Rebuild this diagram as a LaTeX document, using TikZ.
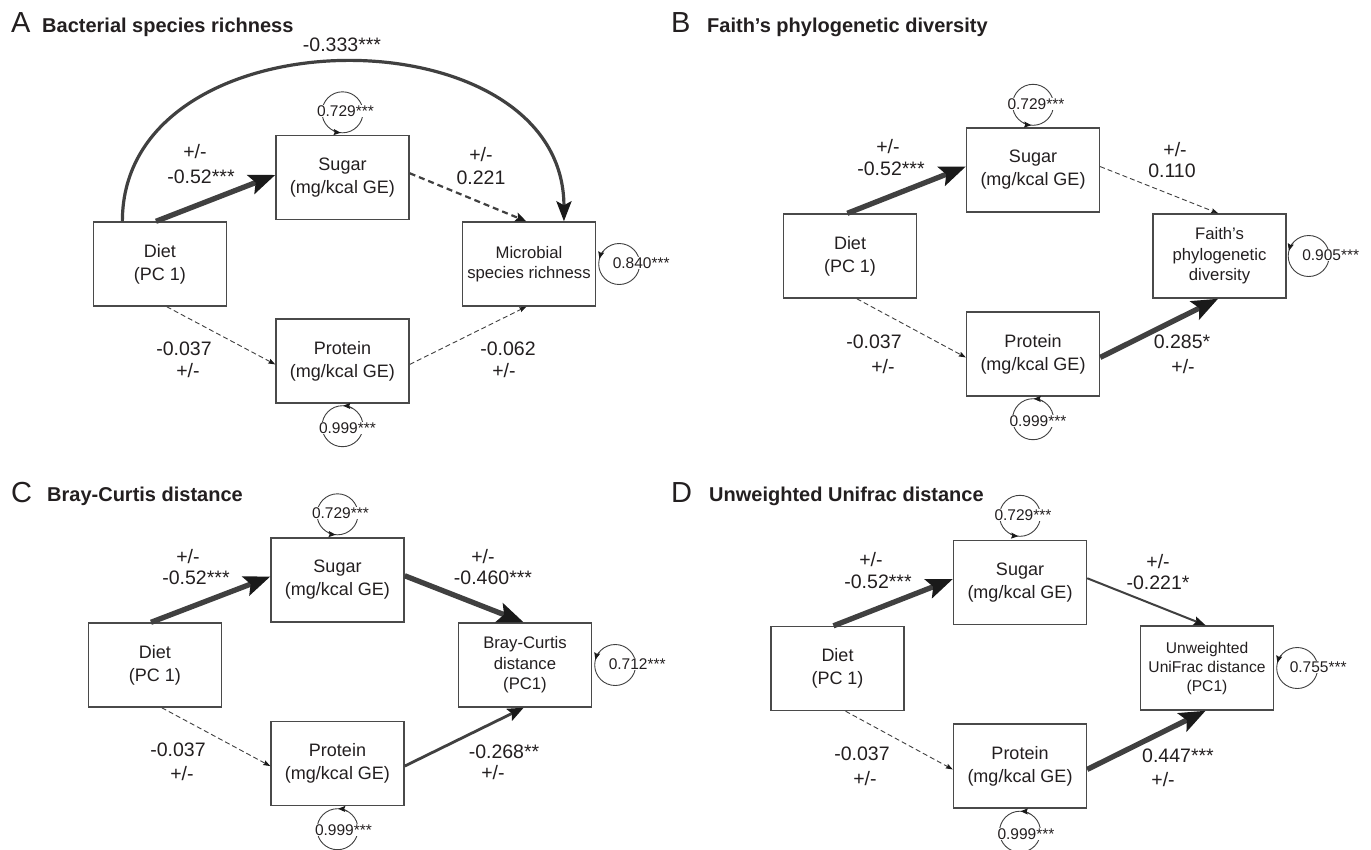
\documentclass[tikz,border=0pt]{standalone}
\usepackage{fontspec}
\setmainfont{Liberation Sans}
\usetikzlibrary{arrows.meta,calc}
\definecolor{ln}{HTML}{404040}
\definecolor{bx}{HTML}{4A4A4A}
\definecolor{tx}{HTML}{231F20}
\definecolor{ah}{HTML}{1A1A1A}
\tikzset{
  box/.style={draw=bx, line width=1.4pt, minimum width=133pt, minimum height=84pt, inner sep=0pt, align=center, text=tx, font=\fontsize{18}{23}\selectfont},
  obox/.style={box, font=\fontsize{16.7}{20.5}\selectfont},
  oboxs/.style={box, font=\fontsize{15.6}{19}\selectfont},
  elab/.style={text=tx, inner sep=0pt, font=\fontsize{19.5}{23}\selectfont},
  llab/.style={text=tx, fill=white, inner sep=0.6pt, font=\fontsize{15.5}{18}\selectfont},
  ttl/.style={anchor=base west, inner sep=0pt, text=tx, font=\bfseries\fontsize{20}{24}\selectfont},
  tletter/.style={anchor=base west, inner sep=0pt, text=tx, font=\fontsize{29}{32}\selectfont},
  thk/.style={draw=ln, line width=5.3pt, -{Stealth[length=26pt,width=20pt,inset=5pt,color=ah]}},
  med/.style={draw=ln, line width=2.8pt, -{Stealth[length=16pt,width=13pt,inset=3pt,color=ah]}},
  medthin/.style={draw=ln, line width=2pt, -{Stealth[length=12pt,width=9pt,inset=2pt,color=ah]}},
  meddash/.style={draw=ln, line width=2.2pt, dash pattern=on 6pt off 4pt, -{Stealth[length=11pt,width=9pt,inset=2pt,color=ah]}},
  thindash/.style={draw=ln, line width=0.9pt, dash pattern=on 5pt off 3pt, -{Stealth[length=7pt,width=5pt,inset=1pt,color=ah]}},
  curv/.style={draw=ln, line width=3.2pt, -{Stealth[length=20pt,width=15pt,inset=4pt,color=ah]}},
  loopc/.style={draw=ln, line width=0.9pt},
  looparr/.style={draw=ln, line width=0.9pt, -{Stealth[length=7pt,width=6pt,inset=1pt,color=ah]}}
}
\begin{document}
\begin{tikzpicture}[x=1pt,y=-1pt]
\fill[white] (0,0) rectangle (1371,849);
\useasboundingbox (0,0) rectangle (1371,849);

% ================= Panel A =================
\node[tletter] (tA) at (11,32) {A};
\node[ttl] (tAt) at (42,32) {Bacterial species richness};
\node[box] (aD) at (160,264) {Diet\\(PC 1)};
\node[box] (aS) at (342.5,177.5) {Sugar\\(mg/kcal GE)};
\node[box] (aP) at (342.5,361) {Protein\\(mg/kcal GE)};
\node[obox] (aM) at (529,264) {Microbial\\species richness};

\draw[thk] ($(aD.north west)!0.47!(aD.north east)$) -- ($(aS.north west)!0.47!(aS.south west)$);
\draw[curv] ($(aD.north west)!0.22!(aD.north east)$) .. controls +(0,-212) and +(0,-212) .. ($(aM.north west)!0.76!(aM.north east)$);
\draw[meddash] ($(aS.north east)!0.45!(aS.south east)$) -- ($(aM.north west)!0.48!(aM.north east)$);
\draw[thindash] ($(aD.south west)!0.55!(aD.south east)$) -- ($(aP.north west)!0.54!(aP.south west)$);
\draw[thindash] ($(aP.north east)!0.54!(aP.south east)$) -- ($(aM.south west)!0.48!(aM.south east)$);

\node[elab] (aL0) at (342,45) {-0.333***};
\node[elab] (aL1) at (195,152) {+/-};
\node[elab] (aL2) at (201,177) {-0.52***};
\node[elab] (aL3) at (481,155) {+/-};
\node[elab] (aL4) at (481,178) {0.221};
\node[elab] (aL5) at (184,349) {-0.037};
\node[elab] (aL6) at (188,371) {+/-};
\node[elab] (aL7) at (508,349) {-0.062};
\node[elab] (aL8) at (504,371) {+/-};

\coordinate (aSl) at ($(aS.north)+(0,-22.5)$);
\draw[loopc] (aSl) circle[radius=20.5];
\draw[looparr] ($(aSl)+(118:20.5)$) arc[start angle=118, end angle=95, radius=20.5];
\node[llab] (aSt) at ($(aSl)+(3,-1)$) {0.729***};
\coordinate (aPl) at ($(aP.south)+(0,22.5)$);
\draw[loopc] (aPl) circle[radius=20.5];
\draw[looparr] ($(aPl)+(300:20.5)$) arc[start angle=300, end angle=272, radius=20.5];
\node[llab] (aPt) at ($(aPl)+(5,2)$) {0.999***};
\coordinate (aMl) at ($(aM.east)+(23,0)$);
\draw[loopc] (aMl) circle[radius=20.5];
\draw[looparr] ($(aMl)+(220:20.5)$) arc[start angle=220, end angle=195, radius=20.5];
\node[llab] (aMt) at ($(aMl)+(22,-1)$) {0.840***};

% ================= Panel B =================
\node[tletter] (tB) at (671,32) {B};
\node[ttl] (tBt) at (707,32) {Faith’s phylogenetic diversity};
\node[box] (bD) at (850,256) {Diet\\(PC 1)};
\node[box] (bS) at (1033,170) {Sugar\\(mg/kcal GE)};
\node[box] (bP) at (1033,354) {Protein\\(mg/kcal GE)};
\node[obox] (bO) at (1219.5,256) {Faith’s\\phylogenetic\\diversity};

\draw[thk] ($(bD.north west)!0.48!(bD.north east)$) -- ($(bS.north west)!0.46!(bS.south west)$);
\draw[thindash] ($(bS.north east)!0.46!(bS.south east)$) -- ($(bO.north west)!0.49!(bO.north east)$);
\draw[thindash] ($(bD.south west)!0.55!(bD.south east)$) -- ($(bP.north west)!0.54!(bP.south west)$);
\draw[thk] ($(bP.north east)!0.54!(bP.south east)$) -- ($(bO.south west)!0.49!(bO.south east)$);

\node[elab] (bL1) at (888,147) {+/-};
\node[elab] (bL2) at (891,169) {-0.52***};
\node[elab] (bL3) at (1175,150) {+/-};
\node[elab] (bL4) at (1172,171) {0.110};
\node[elab] (bL5) at (874,342) {-0.037};
\node[elab] (bL6) at (883,367) {+/-};
\node[elab] (bL7) at (1182,342) {0.285*};
\node[elab] (bL8) at (1183,367) {+/-};

\coordinate (bSl) at ($(bS.north)+(0,-22.5)$);
\draw[loopc] (bSl) circle[radius=20.5];
\draw[looparr] ($(bSl)+(118:20.5)$) arc[start angle=118, end angle=95, radius=20.5];
\node[llab] (bSt) at ($(bSl)+(3,-1)$) {0.729***};
\coordinate (bPl) at ($(bP.south)+(0,22.5)$);
\draw[loopc] (bPl) circle[radius=20.5];
\draw[looparr] ($(bPl)+(300:20.5)$) arc[start angle=300, end angle=272, radius=20.5];
\node[llab] (bPt) at ($(bPl)+(5,2)$) {0.999***};
\coordinate (bOl) at ($(bO.east)+(22,0)$);
\draw[loopc] (bOl) circle[radius=20.5];
\draw[looparr] ($(bOl)+(220:20.5)$) arc[start angle=220, end angle=195, radius=20.5];
\node[llab] (bOt) at ($(bOl)+(22,-1)$) {0.905***};

% ================= Panel C =================
\node[tletter] (tC) at (11,502) {C};
\node[ttl] (tCt) at (47,501) {Bray-Curtis distance};
\node[box] (cD) at (155,665) {Diet\\(PC 1)};
\node[box] (cS) at (337.5,580) {Sugar\\(mg/kcal GE)};
\node[box] (cP) at (337.5,763.5) {Protein\\(mg/kcal GE)};
\node[obox] (cO) at (525,665) {Bray-Curtis\\distance\\(PC1)};

\draw[thk] ($(cD.north west)!0.47!(cD.north east)$) -- ($(cS.north west)!0.46!(cS.south west)$);
\draw[thk] ($(cS.north east)!0.45!(cS.south east)$) -- ($(cO.north west)!0.49!(cO.north east)$);
\draw[thindash] ($(cD.south west)!0.55!(cD.south east)$) -- ($(cP.north west)!0.53!(cP.south west)$);
\draw[med] ($(cP.north east)!0.53!(cP.south east)$) -- ($(cO.south west)!0.49!(cO.south east)$);

\node[elab] (cL1) at (188,557) {+/-};
\node[elab] (cL2) at (196,578) {-0.52***};
\node[elab] (cL3) at (483,557) {+/-};
\node[elab] (cL4) at (493,578) {-0.460***};
\node[elab] (cL5) at (178,750) {-0.037};
\node[elab] (cL6) at (182,774) {+/-};
\node[elab] (cL7) at (504,752) {-0.268**};
\node[elab] (cL8) at (493,773) {+/-};

\coordinate (cSl) at ($(cS.north)+(0,-23)$);
\draw[loopc] (cSl) circle[radius=20.5];
\draw[looparr] ($(cSl)+(118:20.5)$) arc[start angle=118, end angle=95, radius=20.5];
\node[llab] (cSt) at ($(cSl)+(3,-1)$) {0.729***};
\coordinate (cPl) at ($(cP.south)+(0,23)$);
\draw[loopc] (cPl) circle[radius=20.5];
\draw[looparr] ($(cPl)+(300:20.5)$) arc[start angle=300, end angle=272, radius=20.5];
\node[llab] (cPt) at ($(cPl)+(6,1)$) {0.999***};
\coordinate (cOl) at ($(cO.east)+(23,0)$);
\draw[loopc] (cOl) circle[radius=20.5];
\draw[looparr] ($(cOl)+(220:20.5)$) arc[start angle=220, end angle=195, radius=20.5];
\node[llab] (cOt) at ($(cOl)+(22,-1)$) {0.712***};

% ================= Panel D =================
\node[tletter] (tD) at (671,502) {D};
\node[ttl] (tDt) at (709,501) {Unweighted Unifrac distance};
\node[box] (dD) at (837.5,668.5) {Diet\\(PC 1)};
\node[box] (dS) at (1020,582.5) {Sugar\\(mg/kcal GE)};
\node[box] (dP) at (1020,766) {Protein\\(mg/kcal GE)};
\node[oboxs] (dO) at (1207,668) {Unweighted\\UniFrac distance\\(PC1)};

\draw[thk] ($(dD.north west)!0.47!(dD.north east)$) -- ($(dS.north west)!0.46!(dS.south west)$);
\draw[medthin] ($(dS.north east)!0.45!(dS.south east)$) -- ($(dO.north west)!0.49!(dO.north east)$);
\draw[thindash] ($(dD.south west)!0.56!(dD.south east)$) -- ($(dP.north west)!0.54!(dP.south west)$);
\draw[thk] ($(dP.north east)!0.54!(dP.south east)$) -- ($(dO.south west)!0.49!(dO.south east)$);

\node[elab] (dL1) at (871,560) {+/-};
\node[elab] (dL2) at (878,582) {-0.52***};
\node[elab] (dL3) at (1158,562) {+/-};
\node[elab] (dL4) at (1158,583) {-0.221*};
\node[elab] (dL5) at (862,754) {-0.037};
\node[elab] (dL6) at (865,779) {+/-};
\node[elab] (dL7) at (1178,756) {0.447***};
\node[elab] (dL8) at (1163,780) {+/-};

\coordinate (dSl) at ($(dS.north)+(0,-24)$);
\draw[loopc] (dSl) circle[radius=20.5];
\draw[looparr] ($(dSl)+(118:20.5)$) arc[start angle=118, end angle=95, radius=20.5];
\node[llab] (dSt) at ($(dSl)+(3,-1)$) {0.729***};
\coordinate (dPl) at ($(dP.south)+(0,23)$);
\draw[loopc] (dPl) circle[radius=20.5];
\draw[looparr] ($(dPl)+(300:20.5)$) arc[start angle=300, end angle=272, radius=20.5];
\node[llab] (dPt) at ($(dPl)+(6,2)$) {0.999***};
\coordinate (dOl) at ($(dO.east)+(23,0)$);
\draw[loopc] (dOl) circle[radius=20.5];
\draw[looparr] ($(dOl)+(220:20.5)$) arc[start angle=220, end angle=195, radius=20.5];
\node[llab] (dOt) at ($(dOl)+(21,-1)$) {0.755***};
\end{tikzpicture}
\end{document}
